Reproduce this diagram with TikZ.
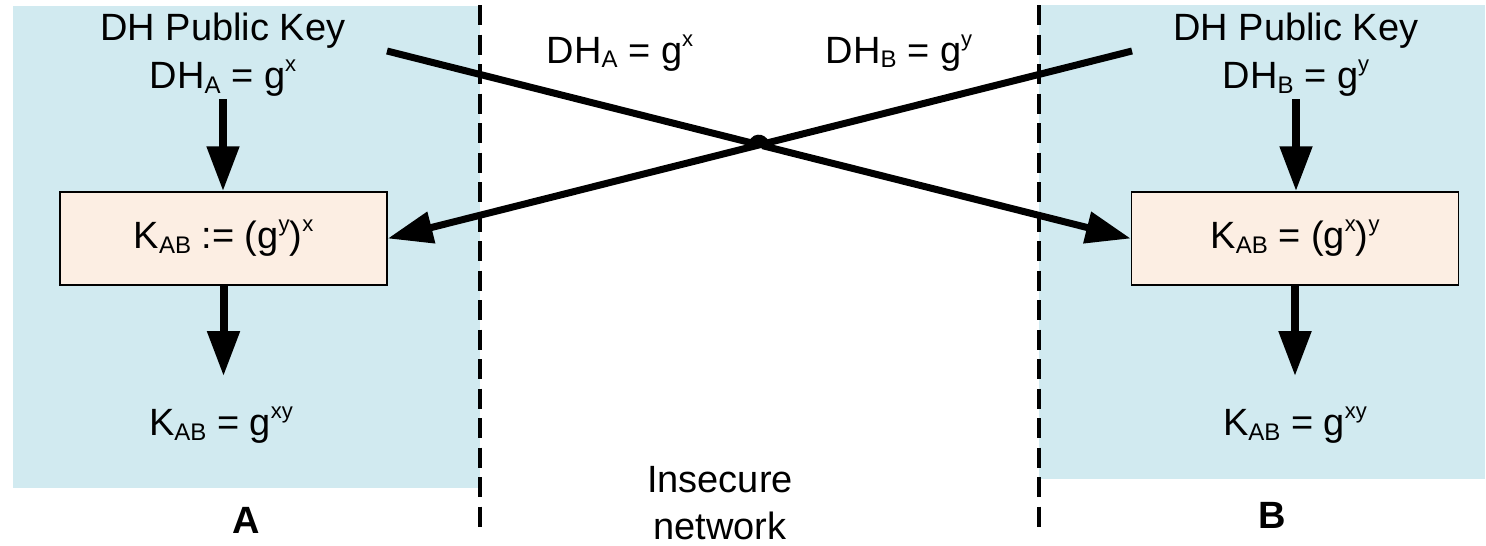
\documentclass[tikz,border=0pt]{standalone}
\usepackage{fontspec}
\setmainfont{Liberation Sans}
\usetikzlibrary{arrows.meta,calc}
\definecolor{panelblue}{RGB}{209,234,240}
\definecolor{boxpeach}{RGB}{252,238,227}
\newcommand\sps[1]{\raisebox{17pt}{\fontsize{22}{22}\selectfont #1}}
\newcommand\sbs[1]{\raisebox{-5pt}{\fontsize{24}{24}\selectfont #1}}
\begin{document}
\begin{tikzpicture}[x=1pt,y=-1pt,
  txt/.style={font=\fontsize{38}{47}\selectfont, inner sep=0pt},
  boldtxt/.style={font=\fontsize{38}{47}\selectfont\bfseries, inner sep=0pt},
  keybox/.style={draw=black, line width=1.5pt, fill=boxpeach, minimum width=327pt,
    minimum height=93pt, text height=26pt, text depth=7pt, inner sep=0pt,
    font=\fontsize{38}{47}\selectfont},
  divider/.style={line width=3.2pt, dash pattern=on 20pt off 9.5pt},
  flow/.style={line width=8pt, -{Triangle[length=45pt,width=31pt]}},
  xfer/.style={line width=7pt, -{Triangle[length=45pt,width=31pt]}},
]
\useasboundingbox (0,0) rectangle (1486,546);
% panels
\fill[panelblue] (13,6) rectangle (480,488);
\fill[panelblue] (1039,5) rectangle (1485,479);
\draw[divider] (480,5) -- (480,536);
\draw[divider] (1039,5) -- (1039,536);
% side A
\node[txt, anchor=base] (pkA) at (223,40) {DH Public Key};
\node[txt, anchor=base, inner sep=3pt] (dhA) at (223,88) {DH\sbs{A} = g\sps{x}};
\node[keybox] (boxA) at (223.5,238.5) {K\sbs{AB} := (g\sps{y})\sps{x}};
\node[txt, anchor=base] (kA) at (221,435) {K\sbs{AB} = g\sps{xy}};
\node[boldtxt, anchor=base] (labA) at (246,533) {A};
% side B
\node[txt, anchor=base] (pkB) at (1296,40) {DH Public Key};
\node[txt, anchor=base, inner sep=3pt] (dhB) at (1296,88) {DH\sbs{B} = g\sps{y}};
\node[keybox] (boxB) at (1295,238.5) {K\sbs{AB} = (g\sps{x})\sps{y}};
\node[txt, anchor=base] (kB) at (1295,435) {K\sbs{AB} = g\sps{xy}};
\node[boldtxt, anchor=base] (labB) at (1272,528) {B};
% network
\node[txt, anchor=base] (msgA) at (620,63) {DH\sbs{A} = g\sps{x}};
\node[txt, anchor=base] (msgB) at (899,63) {DH\sbs{B} = g\sps{y}};
\node[txt, anchor=north, align=center] (net) at (720,466) {Insecure\\network};
% vertical arrows
\draw[flow] (dhA.south) -- (dhA.south |- boxA.north);
\draw[flow, shorten >=30pt] (boxA.south) -- (boxA.south |- kA.north);
\draw[flow] (dhB.south) -- (dhB.south |- boxB.north);
\draw[flow, shorten >=30pt] (boxB.south) -- (boxB.south |- kB.north);
% crossing transfers
\coordinate (sA) at (387,51);
\coordinate (sB) at (1132,51);
\coordinate (cx) at ($(sA)!0.5!(boxB.west)$);
\coordinate (j1) at ($(cx)!6.5pt!(sA)$);
\coordinate (j2) at ($(cx)!6.5pt!(boxB.west)$);
\coordinate (c1) at ($(j1)!8.7pt!90:(cx)$);
\coordinate (c2) at ($(j2)!8.7pt!-90:(cx)$);
\draw[xfer] (sB) -- (boxA.east);
\draw[xfer] (sA) -- (j1) .. controls (c1) and (c2) .. (j2) -- (boxB.west);
\end{tikzpicture}
\end{document}
